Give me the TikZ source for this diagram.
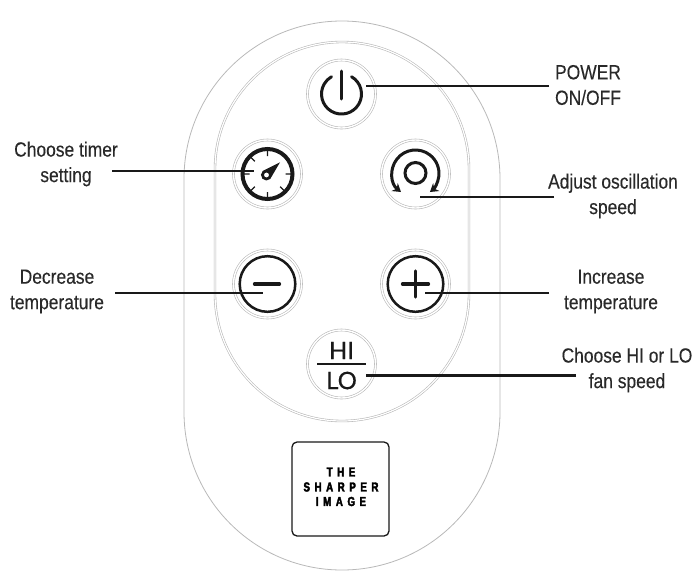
\documentclass[tikz,border=0pt]{standalone}
\usepackage{fontspec}
\usetikzlibrary{arrows.meta}
\setmainfont{Liberation Sans}[FakeStretch=0.85,FakeBold=0.25]
\newfontfamily\hifont{Lato}[FakeBold=0.4]
\newfontfamily\logofont{Liberation Sans Bold}[FakeStretch=0.75,LetterSpace=35,FakeBold=3]
\definecolor{ringgray}{gray}{0.72}
\definecolor{inkk}{gray}{0.1}
\definecolor{labelink}{gray}{0.16}
\tikzset{
  x=1pt,y=-1pt,
  ring/.style={circle,draw=ringgray,line width=0.6pt,double=white,double distance=1.4pt,minimum size=68pt,inner sep=0pt,fill=white},
  leader/.style={draw=inkk,line width=2.3pt},
  icon/.style={draw=inkk,line width=3pt},
  label/.style={align=center,font=\fontsize{20.5}{25.5}\selectfont,text=labelink,inner sep=0pt},
  shell/.style={draw=ringgray,line width=0.8pt},
  hilo/.style={font=\hifont\fontsize{24}{24}\selectfont,text=inkk,inner sep=0pt},
  logotext/.style={font=\logofont\fontsize{13}{13}\selectfont,text=black,inner sep=0pt}
}
\begin{document}
\begin{tikzpicture}
\useasboundingbox (0,0) rectangle (693,571);
% body
\draw[shell] (184,179) arc[start angle=180,end angle=0,radius=158pt] -- (500,412) arc[start angle=0,end angle=-180,radius=158pt] -- cycle;
\draw[draw=ringgray,line width=0.6pt,double=white,double distance=1.2pt]
  (215,169) arc[start angle=180,end angle=0,radius=127pt] -- (469,294) arc[start angle=0,end angle=-180,radius=127pt] -- cycle;
% buttons
\node[ring] (power) at (341.5,94) {};
\node[ring] (timer) at (267.5,174) {};
\node[ring] (osc) at (415.5,174) {};
\node[ring] (minus) at (267.5,284) {};
\node[ring] (plus) at (415.5,284) {};
\node[ring] (hilo) at (341.5,364) {};
% power icon
\begin{scope}[shift={(power)}]
  \draw[icon,line cap=round] (10,-17.3) arc[start angle=60,end angle=-240,radius=20pt];
  \draw[icon,line cap=round] (0,-23) -- (0,5);
\end{scope}
% timer icon
\begin{scope}[shift={(timer)}]
  \draw[draw=inkk,line width=4pt] (0,0) circle[radius=25pt];
  \draw[draw=inkk,line width=1.3pt] (0,-25) -- (0,-18) (0,25) -- (0,18) (25,0) -- (18,0) (-25,0) -- (-18,0)
    (-17.7,-17.7) -- (-12.7,-12.7) (17.7,17.7) -- (12.7,12.7) (-17.7,17.7) -- (-12.7,12.7);
  \fill[inkk] (12.5,-11.7) -- (2.7,5) arc[start angle=-47,end angle=-227,radius=5.5pt] -- cycle;
  \fill[white] (-1,1) circle[radius=2.4pt];
\end{scope}
% oscillation icon
\begin{scope}[shift={(415.5,173)}]
  \draw[icon] (0,0) circle[radius=10.5pt];
  \draw[icon,{Stealth[length=8pt,width=10pt]}-{Stealth[length=8pt,width=10pt]}]
    (-14.5,19) arc[start angle=232,end angle=-52,radius=23.5pt];
\end{scope}
% minus icon
\begin{scope}[shift={(minus)}]
  \draw[draw=inkk,line width=2.5pt] (0,0) circle[radius=27.8pt];
  \draw[icon,line width=3.3pt,line cap=round] (-13,0) -- (12,0);
\end{scope}
% plus icon
\begin{scope}[shift={(plus)}]
  \draw[draw=inkk,line width=2.5pt] (0,0) circle[radius=27.8pt];
  \draw[icon,line width=3.3pt,line cap=round] (-13,0) -- (13,0) (0,-13) -- (0,13);
\end{scope}
% hi lo
\node[hilo] (hitext) at (341.5,350.5) {HI};
\node[hilo] (lotext) at (341.5,380.5) {LO};
\draw[draw=inkk,line width=2pt] (317,364) -- (366,364);
% logo
\node[draw=inkk,line width=1.3pt,rounded corners=5pt,minimum width=97pt,minimum height=94pt,inner sep=0pt] (logo) at (340.5,489) {};
\node[logotext] (l1) at (341,472) {THE};
\node[logotext] (l2) at (341,487) {SHARPER};
\node[logotext] (l3) at (341,501.5) {IMAGE};
% labels
\node[label] (tpower) at (588,85) {POWER\\ON/OFF};
\node[label] (ttimer) at (66,164) {Choose timer\\setting};
\node[label] (tosc) at (613,196) {Adjust oscillation\\speed};
\node[label] (tminus) at (57,291.5) {Decrease\\temperature};
\node[label] (tplus) at (611,291.5) {Increase\\temperature};
\node[label] (thilo) at (627,370) {Choose HI or LO\\fan speed};
% connector ends
\coordinate (epower) at (366,86); \coordinate (fpower) at (549,86);
\coordinate (etimer) at (254,171); \coordinate (ftimer) at (112,171);
\coordinate (eosc) at (420,197); \coordinate (fosc) at (554,197);
\coordinate (eminus) at (263,293); \coordinate (fminus) at (115,293);
\coordinate (eplus) at (425,293); \coordinate (fplus) at (549,293);
\coordinate (ehilo) at (366,375.5); \coordinate (fhilo) at (576,375.5);
\draw[leader] (fpower) -- (epower);
\draw[leader] (ftimer) -- (etimer);
\draw[leader] (fosc) -- (eosc);
\draw[leader] (fminus) -- (eminus);
\draw[leader] (fplus) -- (eplus);
\draw[leader] (fhilo) -- (ehilo);
\end{tikzpicture}
\end{document}
